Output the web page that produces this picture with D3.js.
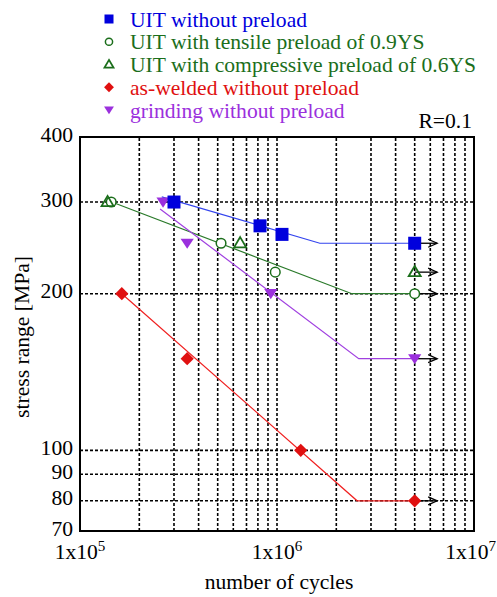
<!DOCTYPE html>
<html lang="en">
<head>
<meta charset="UTF-8">
<title>S-N curves</title>
<script src="https://d3js.org/d3.v7.min.js"></script>
<style>
  body { margin: 0; background: #fff; }
</style>
</head>
<body>
<svg id="chart" width="497" height="597" font-family="'Liberation Serif', 'Times New Roman', Times, serif"></svg>
<script>
// test results: [cycles, stress range MPa]
const uitNone = [[3e5, 300], [8.2e5, 270], [1.06e6, 260], [5e6, 250]];
const uitTensile = [[1.44e5, 300], [5.2e5, 250], [9.8e5, 220], [5e6, 200]];
const uitComp = [[1.38e5, 300], [6.5e5, 250], [5e6, 220]];
const asWelded = [[1.63e5, 200], [3.5e5, 150], [1.32e6, 100], [5e6, 80]];
const grinding = [[2.64e5, 300], [3.5e5, 250], [9.3e5, 200], [5e6, 150]];

// fitted S-N lines with knee
const uitNoneFit = [[2.6e5, 307], [1.65e6, 250], [5e6, 250]];
const uitPreloadFit = [[1.45e5, 300], [2.4e6, 200], [5e6, 200]];
const asWeldedFit = [[1.63e5, 200], [2.55e6, 80], [5e6, 80]];
const grindingFit = [[2.55e5, 291], [2.6e6, 150], [5e6, 150]];

// run-outs (arrow start stress at 5e6 cycles)
const runouts = [250, 220, 200, 150, 80];
const runoutFrom = 5e6, runoutTo = 6.5e6;

const yTicks = [70, 80, 90, 100, 200, 300, 400];
const yGrid = [80, 90, 100, 200, 300];
const xTickExp = [5, 6, 7];
const xGrid = [2e5, 3e5, 4e5, 5e5, 6e5, 7e5, 8e5, 9e5, 1e6, 2e6, 3e6, 4e6, 5e6, 6e6, 7e6, 8e6, 9e6];

const legendItems = [
  {label: "UIT without preload", color: "#0000dd", shape: "square"},
  {label: "UIT with tensile preload of 0.9YS", color: "#1b6e1b", shape: "circle"},
  {label: "UIT with compressive preload of 0.6YS", color: "#1b6e1b", shape: "triangle"},
  {label: "as-welded without preload", color: "#e01010", shape: "diamond"},
  {label: "grinding without preload", color: "#9b30dd", shape: "down"}
];

const W = 497;
const svg = d3.select("#chart");
const x = d3.scaleLog().domain([1e5, 1e7]).range([80, 474]);
const y = d3.scaleLog().domain([70, 400]).range([531, 137]);
const FS = 20, SX = 1.08; // font size and the slight horizontal stretch of the original

// text helper: stretched horizontally like the source image
function label(parent, tx, ty, str, anchor, rot) {
  return parent.append("text")
    .attr("transform", `translate(${tx},${ty})${rot ? " rotate(" + rot + ")" : ""} scale(${SX},1)`)
    .attr("text-anchor", anchor || "start").attr("font-size", FS)
    .text(str);
}

// grid
svg.append("g").selectAll("line").data(xGrid).join("line")
  .attr("x1", d => x(d)).attr("x2", d => x(d))
  .attr("y1", y(70)).attr("y2", y(400))
  .attr("stroke", "#000").attr("stroke-width", 1.6).attr("stroke-dasharray", "3,2");
svg.append("g").selectAll("line").data(yGrid).join("line")
  .attr("x1", x(1e5)).attr("x2", x(1e7))
  .attr("y1", d => y(d)).attr("y2", d => y(d))
  .attr("stroke", "#000").attr("stroke-width", 1.6).attr("stroke-dasharray", "3,2");

// frame
svg.append("rect")
  .attr("x", x(1e5)).attr("y", y(400))
  .attr("width", x(1e7) - x(1e5)).attr("height", y(70) - y(400))
  .attr("fill", "none").attr("stroke", "#000").attr("stroke-width", 2);

// y tick labels
const yl = svg.append("g");
yTicks.forEach(t => label(yl, x(1e5) - 7, y(t) + 4.5, t, "end"));

// x tick labels with superscripts (last one kept inside the page)
const xlg = svg.append("g");
xTickExp.forEach(e => {
  const t = label(xlg, x(Math.pow(10, e)), 559, "", "middle");
  t.append("tspan").text("1x10");
  t.append("tspan").attr("dy", -8).attr("font-size", 14).text(e);
  const bb = t.node().getBBox();
  const right = x(Math.pow(10, e)) + bb.width * SX / 2;
  if (right > W - 1) {
    t.attr("transform", `translate(${x(Math.pow(10, e)) - (right - W + 1)},559) scale(${SX},1)`);
  }
});

// axis titles
label(svg, 279, 589, "number of cycles", "middle");
label(svg, 29, 337, "stress range [MPa]", "middle", -90);
label(svg, 472, 128, "R=0.1", "end");

// fit lines
const line = d3.line().x(d => x(d[0])).y(d => y(d[1]));
const fits = [
  [uitNoneFit, "#3344ee"],
  [uitPreloadFit, "#2a7a2a"],
  [asWeldedFit, "#f02020"],
  [grindingFit, "#a040e0"]
];
svg.append("g").selectAll("path").data(fits).join("path")
  .attr("d", d => line(d[0])).attr("fill", "none")
  .attr("stroke", d => d[1]).attr("stroke-width", 1.2);

// run-out arrows
const ar = svg.append("g").selectAll("g").data(runouts).join("g");
ar.append("line")
  .attr("x1", x(runoutFrom)).attr("x2", x(runoutTo))
  .attr("y1", d => y(d)).attr("y2", d => y(d))
  .attr("stroke", "#000").attr("stroke-width", 1.3);
ar.append("path")
  .attr("d", d => `M${x(runoutTo) - 9},${y(d) - 4} L${x(runoutTo)},${y(d)} L${x(runoutTo) - 9},${y(d) + 4}`)
  .attr("fill", "none").attr("stroke", "#000").attr("stroke-width", 1.3);

// marker drawing
function marker(g, shape, color, s) {
  if (shape === "square") {
    g.append("rect").attr("x", -s / 2).attr("y", -s / 2).attr("width", s).attr("height", s).attr("fill", color);
  } else if (shape === "circle") {
    g.append("circle").attr("r", s * 0.4).attr("fill", "#fff").attr("stroke", color).attr("stroke-width", 1.5);
  } else if (shape === "triangle") {
    const h = s * 0.85;
    g.append("path").attr("d", `M0,${-h * 0.6} L${s * 0.5},${h * 0.4} L${-s * 0.5},${h * 0.4}Z`)
      .attr("fill", "none").attr("stroke", color).attr("stroke-width", 1.8);
  } else if (shape === "diamond") {
    const r = s * 0.55;
    g.append("path").attr("d", `M0,${-r} L${r},0 L0,${r} L${-r},0Z`).attr("fill", color);
  } else if (shape === "down") {
    const h = s * 0.85;
    g.append("path").attr("d", `M${-s * 0.55},${-h * 0.45} L${s * 0.55},${-h * 0.45} L0,${h * 0.55}Z`).attr("fill", color);
  }
}

const series = [
  [uitTensile, legendItems[1]],
  [uitComp, legendItems[2]],
  [grinding, legendItems[4]],
  [uitNone, legendItems[0]],
  [asWelded, legendItems[3]]
];
series.forEach(([pts, item]) => {
  const size = item.shape === "square" ? 13 : 12;
  svg.append("g").selectAll("g").data(pts).join("g")
    .attr("transform", d => `translate(${x(d[0])},${y(d[1])})`)
    .each(function () { marker(d3.select(this), item.shape, item.color, size); });
});

// legend
const lg = svg.append("g").selectAll("g").data(legendItems).join("g")
  .attr("transform", (d, i) => `translate(109,${19 + i * 22.75})`);
lg.each(function (d) {
  marker(d3.select(this), d.shape, d.color, 9);
  label(d3.select(this), 21, 7.5, d.label).attr("fill", d.color);
});
</script>
</body>
</html>
